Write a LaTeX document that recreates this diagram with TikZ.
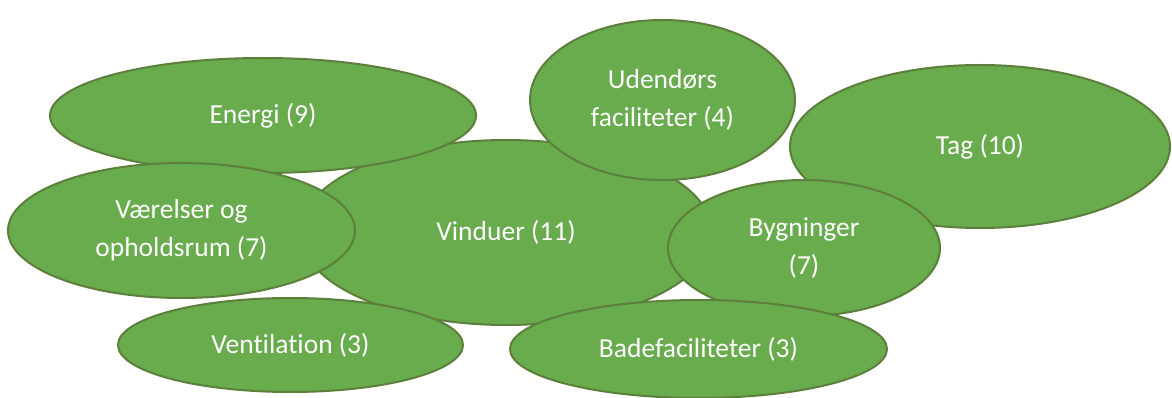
\documentclass[tikz,border=0pt]{standalone}
\usepackage{fontspec}
\setmainfont{Carlito}[Ligatures=NoCommon]
\usetikzlibrary{shapes.geometric}
\definecolor{leaf}{HTML}{68AC4E}
\definecolor{leafline}{HTML}{5C7F3B}
\tikzset{
  blob/.style={ellipse, draw=leafline, fill=leaf, line width=2pt, inner sep=0pt,
    text=white, align=center, font=\fontsize{27.5}{38}\selectfont}
}
\begin{document}
\begin{tikzpicture}[x=1pt,y=-1pt]
\path[use as bounding box, fill=white] (0,0) rectangle (1172,398);
\node[blob, minimum width=412pt, minimum height=185pt] (vin) at (506,232.5) {Vinduer (11)};
\node[blob, minimum width=426pt, minimum height=115pt] (ene) at (263,115.5) {Energi (9)};
\node[blob, minimum width=265pt, minimum height=160pt] (ude) at (662.5,100) {Udendørs\\faciliteter (4)};
\node[blob, minimum width=380pt, minimum height=163pt] (tag) at (980,146.5) {Tag (10)};
\node[blob, minimum width=347pt, minimum height=135pt] (vae) at (181.5,230.5) {Værelser og\\opholdsrum (7)};
\node[blob, minimum width=272pt, minimum height=136pt] (byg) at (804,248) {Bygninger\\(7)};
\node[blob, minimum width=345pt, minimum height=94pt] (ven) at (290.5,345) {Ventilation (3)};
\node[blob, minimum width=377pt, minimum height=98pt] (bad) at (698.5,349) {Badefaciliteter (3)};
\end{tikzpicture}
\end{document}
